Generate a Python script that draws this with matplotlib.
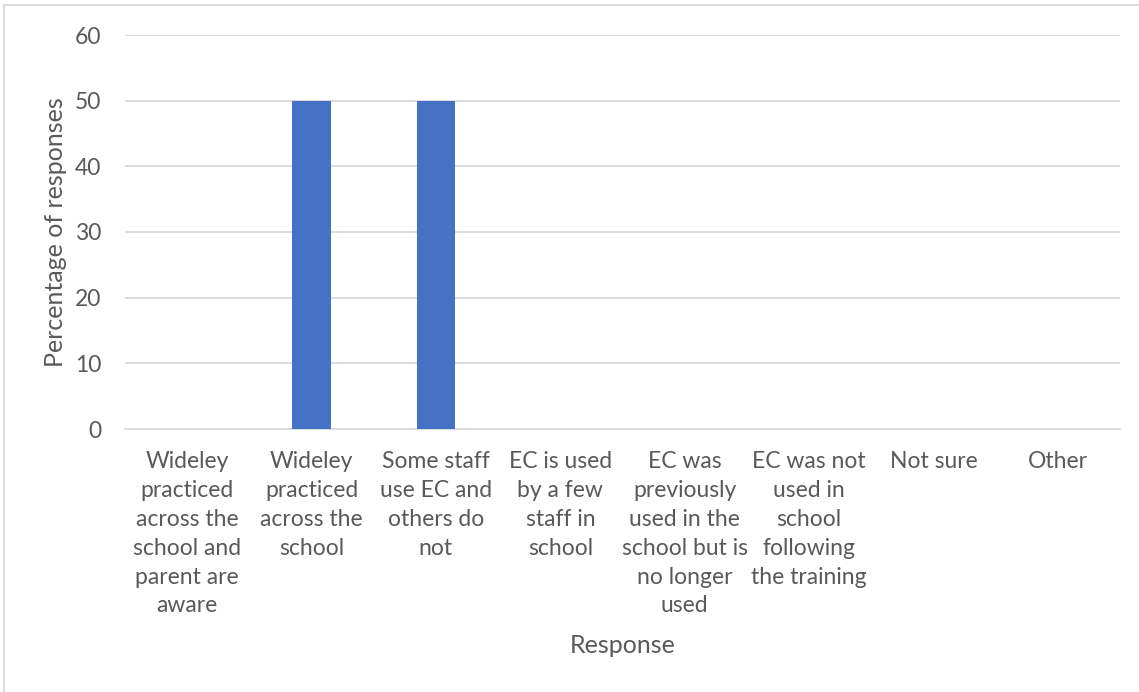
import matplotlib.pyplot as plt
from matplotlib.lines import Line2D

plt.rcParams['font.family'] = ['Lato', 'DejaVu Sans']

categories = [
    "Wideley\npracticed\nacross the\nschool and\nparent are\naware",
    "Wideley\npracticed\nacross the\nschool",
    "Some staff\nuse EC and\nothers do\nnot",
    "EC is used\nby a few\nstaff in\nschool",
    "EC was\npreviously\nused in the\nschool but is\nno longer\nused",
    "EC was not\nused in\nschool\nfollowing\nthe training",
    "Not sure",
    "Other",
]
values = [0, 50, 50, 0, 0, 0, 0, 0]
yticks = [0, 10, 20, 30, 40, 50, 60]

text_col = '#595959'
grid_col = '#d9d9d9'

W, H = 1139, 692
fig = plt.figure(figsize=(W / 100, H / 100), dpi=100)
ax = fig.add_axes([125 / W, 1 - 429 / H, 995 / W, 394 / H])

x = range(len(categories))
ax.bar(x, values, width=0.31, color='#4472c4', zorder=3)

ax.set_xlim(-0.5, len(categories) - 0.5)
ax.set_ylim(0, 60)
ax.set_yticks(yticks)
ax.set_xticks(list(x))
ax.set_xticklabels(categories, linespacing=1.46)
ax.grid(axis='y', color=grid_col, linewidth=1.3, zorder=0)
for s in ['top', 'right', 'left']:
    ax.spines[s].set_visible(False)
ax.spines['bottom'].set_color(grid_col)
ax.spines['bottom'].set_linewidth(1.3)
ax.tick_params(axis='both', length=0, labelsize=16.5, colors=text_col)
ax.tick_params(axis='x', pad=16)
ax.tick_params(axis='y', pad=17)

ax.set_ylabel('Percentage of responses', fontsize=18, color=text_col, labelpad=6)
ax.set_xlabel('Response', fontsize=18, color=text_col, labelpad=13)

# outer chart border (top and left visible)
fig.lines.append(Line2D([4 / W, 4 / W], [0, 1 - 5 / H], transform=fig.transFigure,
                        color=grid_col, linewidth=1.3))
fig.lines.append(Line2D([4 / W, 1], [1 - 5 / H, 1 - 5 / H], transform=fig.transFigure,
                        color=grid_col, linewidth=1.3))

fig.savefig('out.png', dpi=100)
